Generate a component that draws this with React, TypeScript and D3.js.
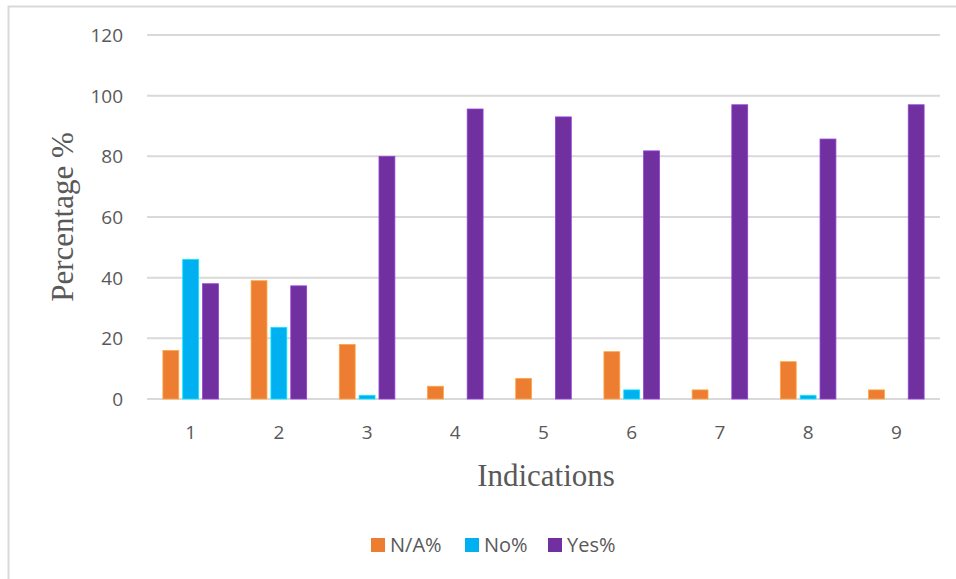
import React, { useEffect, useRef } from "react";
import * as d3 from "d3";

const categories = ["1", "2", "3", "4", "5", "6", "7", "8", "9"];
const seriesNames = ["N/A%", "No%", "Yes%"];
const naValues = [16, 39, 18, 4.2, 6.8, 15.6, 3, 12.3, 3];
const noValues = [46, 23.6, 1.2, 0, 0, 3, 0, 1.2, 0];
const yesValues = [38, 37.3, 80, 95.6, 93, 81.8, 97, 85.7, 97];
const yTicks = [0, 20, 40, 60, 80, 100, 120];
const colors = ["#ED7D31", "#00B0F0", "#7030A0"];

const App = () => {
  const ref = useRef<SVGSVGElement>(null);

  useEffect(() => {
    const width = 956;
    const height = 579;
    const svg = d3.select(ref.current).attr("width", width).attr("height", height);
    svg.selectAll("*").remove();

    const series = [naValues, noValues, yesValues];
    const left = 147;
    const right = 940;
    const top = 35;
    const bottom = 399;

    // chart frame
    svg
      .append("rect")
      .attr("x", 8.5)
      .attr("y", 6.5)
      .attr("width", 1000)
      .attr("height", 1000)
      .attr("fill", "#fff")
      .attr("stroke", "#d9d9d9")
      .attr("stroke-width", 2);

    const y = d3.scaleLinear().domain([0, 120]).range([bottom, top]);
    const x0 = d3.scaleBand().domain(categories).range([left, right]).paddingInner(0.37).paddingOuter(0.18);
    const x1 = d3.scaleBand().domain(seriesNames).range([0, x0.bandwidth()]).paddingInner(0.2).paddingOuter(0);

    const g = svg.append("g");

    g.selectAll("line.grid")
      .data(yTicks)
      .enter()
      .append("line")
      .attr("x1", left)
      .attr("x2", right)
      .attr("y1", (d) => y(d))
      .attr("y2", (d) => y(d))
      .attr("stroke", "#d9d9d9")
      .attr("stroke-width", 2);

    g.selectAll("text.ytick")
      .data(yTicks)
      .enter()
      .append("text")
      .attr("x", 123)
      .attr("y", (d) => y(d) + 7)
      .attr("text-anchor", "end")
      .attr("font-family", "'Open Sans', sans-serif")
      .attr("font-size", 19)
      .attr("fill", "#595959")
      .text((d) => d);

    g.selectAll("text.xtick")
      .data(categories)
      .enter()
      .append("text")
      .attr("x", (d) => x0(d)! + x0.bandwidth() / 2)
      .attr("y", 439)
      .attr("text-anchor", "middle")
      .attr("font-family", "'Open Sans', sans-serif")
      .attr("font-size", 19)
      .attr("fill", "#595959")
      .text((d) => d);

    series.forEach((vals, si) => {
      g.selectAll(`rect.s${si}`)
        .data(vals)
        .enter()
        .append("rect")
        .attr("x", (d, i) => x0(categories[i])! + x1(seriesNames[si])!)
        .attr("y", (d) => y(d))
        .attr("width", x1.bandwidth())
        .attr("height", (d) => bottom - y(d))
        .attr("fill", colors[si])
        .attr("stroke", d3.color(colors[si])!.brighter(0.8).toString())
        .attr("stroke-width", (d) => (d > 0 ? 0.8 : 0));
    });

    // axis titles
    svg
      .append("text")
      .attr("transform", `translate(73, 217) rotate(-90)`)
      .attr("text-anchor", "middle")
      .attr("font-family", "'Liberation Serif', serif")
      .attr("font-size", 31)
      .attr("fill", "#595959")
      .text("Percentage %");

    svg
      .append("text")
      .attr("x", 546)
      .attr("y", 486)
      .attr("text-anchor", "middle")
      .attr("font-family", "'Liberation Serif', serif")
      .attr("font-size", 31)
      .attr("fill", "#595959")
      .text("Indications");

    // legend
    const legendX = [371, 465, 548];
    seriesNames.forEach((name, i) => {
      svg
        .append("rect")
        .attr("x", legendX[i])
        .attr("y", 538)
        .attr("width", 14)
        .attr("height", 14)
        .attr("fill", colors[i]);
      svg
        .append("text")
        .attr("x", legendX[i] + 19)
        .attr("y", 552)
        .attr("font-family", "'Open Sans', sans-serif")
        .attr("font-size", 20)
        .attr("fill", "#595959")
        .text(name);
    });
  }, []);

  return (
    <div style={{ position: "absolute", left: 0, top: 0 }}>
      <svg ref={ref} style={{ display: "block" }}></svg>
    </div>
  );
};

export default App;
